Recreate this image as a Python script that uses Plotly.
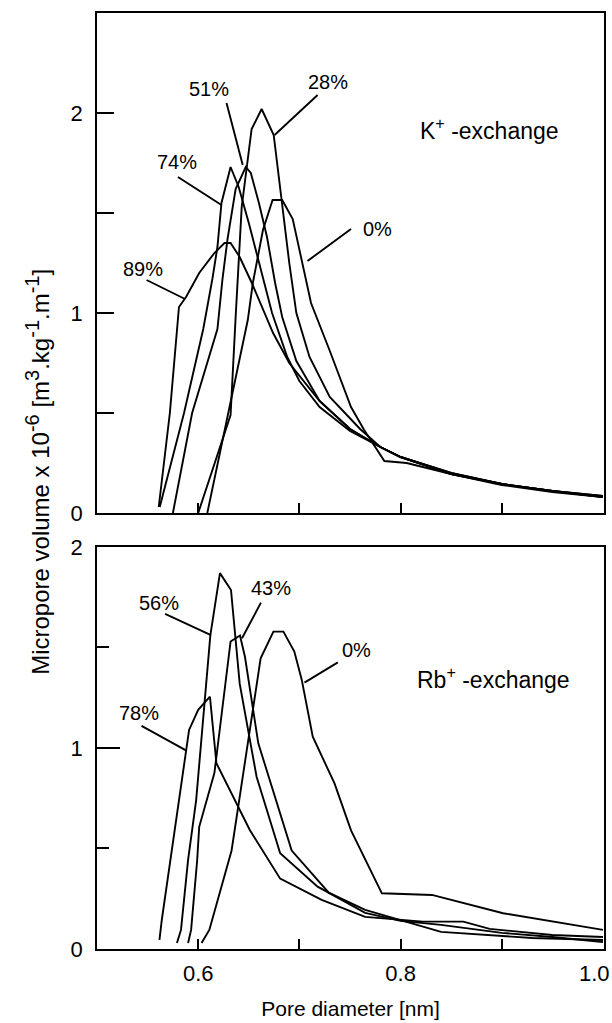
import plotly.graph_objects as go

# ---------------- data: K+-exchange (top panel) ----------------
k0_x = [0.609, 0.649, 0.654, 0.664, 0.6735, 0.683, 0.6934, 0.7115, 0.7297, 0.751, 0.764, 0.784, 0.806, 0.85, 0.90, 0.95, 1.00]
k0_y = [0.00, 0.965, 1.15, 1.415, 1.565, 1.565, 1.47, 1.05, 0.815, 0.53, 0.415, 0.26, 0.25, 0.195, 0.145, 0.11, 0.085]

k28_x = [0.600, 0.632, 0.637, 0.643, 0.6528, 0.6627, 0.6746, 0.683, 0.690, 0.697, 0.710, 0.730, 0.760, 0.780, 0.800, 0.850, 0.900, 0.950, 1.000]
k28_y = [0.00, 0.49, 0.98, 1.53, 1.92, 2.02, 1.89, 1.55, 1.25, 1.00, 0.78, 0.58, 0.42, 0.33, 0.28, 0.20, 0.145, 0.11, 0.085]

k51_x = [0.575, 0.594, 0.619, 0.624, 0.629, 0.637, 0.647, 0.652, 0.660, 0.668, 0.676, 0.683, 0.697, 0.720, 0.750, 0.780, 0.800, 0.850, 0.900, 0.950, 1.000]
k51_y = [0.00, 0.50, 0.92, 1.17, 1.37, 1.62, 1.73, 1.70, 1.55, 1.38, 1.15, 0.98, 0.76, 0.56, 0.42, 0.33, 0.28, 0.195, 0.145, 0.11, 0.08]

k74_x = [0.562, 0.586, 0.605, 0.614, 0.619, 0.623, 0.632, 0.640, 0.650, 0.660, 0.673, 0.688, 0.700, 0.720, 0.750, 0.780, 0.800, 0.850, 0.900, 0.950, 1.000]
k74_y = [0.03, 0.50, 0.92, 1.17, 1.33, 1.55, 1.73, 1.63, 1.45, 1.25, 1.00, 0.78, 0.66, 0.53, 0.41, 0.33, 0.28, 0.195, 0.14, 0.105, 0.08]

k89_x = [0.561, 0.572, 0.581, 0.588, 0.601, 0.616, 0.626, 0.632, 0.641, 0.653, 0.674, 0.690, 0.720, 0.750, 0.780, 0.800, 0.850, 0.900, 0.950, 1.000]
k89_y = [0.03, 0.50, 1.03, 1.08, 1.20, 1.30, 1.35, 1.35, 1.28, 1.15, 0.90, 0.75, 0.56, 0.42, 0.33, 0.28, 0.20, 0.145, 0.11, 0.08]

# ---------------- data: Rb+-exchange (bottom panel) ----------------
r0_x = [0.6033, 0.611, 0.633, 0.6617, 0.6743, 0.6842, 0.695, 0.7023, 0.7132, 0.7347, 0.751, 0.7815, 0.831, 0.9013, 1.000]
r0_y = [0.03, 0.095, 0.49, 1.446, 1.579, 1.579, 1.48, 1.34, 1.056, 0.824, 0.59, 0.277, 0.269, 0.178, 0.095]

r43_x = [0.590, 0.593, 0.599, 0.601, 0.616, 0.632, 0.6413, 0.6462, 0.6594, 0.6924, 0.729, 0.765, 0.840, 0.930, 1.000]
r43_y = [0.03, 0.095, 0.443, 0.608, 0.875, 1.53, 1.56, 1.454, 1.023, 0.49, 0.28, 0.195, 0.085, 0.055, 0.045]

r56_x = [0.579, 0.583, 0.590, 0.598, 0.612, 0.6215, 0.6324, 0.641, 0.6577, 0.681, 0.718, 0.765, 0.800, 0.840, 0.900, 0.950, 1.000]
r56_y = [0.03, 0.095, 0.443, 0.741, 1.56, 1.87, 1.786, 1.32, 0.857, 0.476, 0.31, 0.18, 0.14, 0.12, 0.08, 0.06, 0.035]

r78_x = [0.5617, 0.564, 0.591, 0.600, 0.6116, 0.618, 0.651, 0.681, 0.722, 0.765, 0.822, 0.862, 0.888, 0.950, 1.000]
r78_y = [0.045, 0.144, 1.09, 1.19, 1.255, 0.924, 0.592, 0.35, 0.244, 0.16, 0.136, 0.136, 0.10, 0.07, 0.06]

# ---------------- labels ----------------
x_tickvals = [0.6, 0.7, 0.8, 0.9]
x_ticktext = ["0.6", "", "0.8", ""]
x_last_tick = 1.0
x_last_text = "1.0"

top_labels = ["51%", "28%", "74%", "0%", "89%"]
top_label_x = [0.611, 0.728, 0.5786, 0.777, 0.545]
top_label_y = [2.12, 2.157, 1.757, 1.42, 1.22]
top_leader_x0 = [0.628, 0.718, 0.580, 0.751, 0.549]
top_leader_y0 = [2.05, 2.09, 1.68, 1.42, 1.165]
top_leader_x1 = [0.644, 0.6755, 0.623, 0.708, 0.587]
top_leader_y1 = [1.74, 1.89, 1.54, 1.26, 1.07]

bot_labels = ["56%", "43%", "0%", "78%"]
bot_label_x = [0.5614, 0.672, 0.756, 0.5416]
bot_label_y = [1.72, 1.795, 1.488, 1.173]
bot_leader_x0 = [0.5673, 0.662, 0.738, 0.544]
bot_leader_y0 = [1.667, 1.723, 1.426, 1.11]
bot_leader_x1 = [0.6126, 0.6433, 0.705, 0.5884]
bot_leader_y1 = [1.562, 1.546, 1.325, 0.987]

FONT = "Liberation Sans, Arial, sans-serif"
fig = go.Figure()

for xs, ys in [(k0_x, k0_y), (k28_x, k28_y), (k51_x, k51_y), (k74_x, k74_y), (k89_x, k89_y)]:
    fig.add_trace(go.Scatter(x=xs, y=ys, mode="lines", line=dict(color="black", width=1.9),
                             xaxis="x", yaxis="y", showlegend=False, hoverinfo="skip"))
for xs, ys in [(r0_x, r0_y), (r43_x, r43_y), (r56_x, r56_y), (r78_x, r78_y)]:
    fig.add_trace(go.Scatter(x=xs, y=ys, mode="lines", line=dict(color="black", width=1.9),
                             xaxis="x2", yaxis="y2", showlegend=False, hoverinfo="skip"))

annotations = []
shapes = []
for t, x, y, x0, y0, x1, y1 in zip(top_labels, top_label_x, top_label_y, top_leader_x0, top_leader_y0, top_leader_x1, top_leader_y1):
    annotations.append(dict(x=x, y=y, xref="x", yref="y", text=t, showarrow=False,
                            font=dict(family=FONT, size=20, color="black")))
    shapes.append(dict(type="line", xref="x", yref="y", x0=x0, y0=y0, x1=x1, y1=y1,
                       line=dict(color="black", width=1.9)))
for t, x, y, x0, y0, x1, y1 in zip(bot_labels, bot_label_x, bot_label_y, bot_leader_x0, bot_leader_y0, bot_leader_x1, bot_leader_y1):
    annotations.append(dict(x=x, y=y, xref="x2", yref="y2", text=t, showarrow=False,
                            font=dict(family=FONT, size=20, color="black")))
    shapes.append(dict(type="line", xref="x2", yref="y2", x0=x0, y0=y0, x1=x1, y1=y1,
                       line=dict(color="black", width=1.9)))

annotations.append(dict(x=0.8876, y=1.92, xref="x", yref="y", text="K<sup>+</sup> -exchange",
                        showarrow=False, font=dict(family=FONT, size=23, color="black")))
annotations.append(dict(x=0.8914, y=1.347, xref="x2", yref="y2", text="Rb<sup>+</sup> -exchange",
                        showarrow=False, font=dict(family=FONT, size=23, color="black")))

# last x tick label, nudged so it stays inside the page like the reference
annotations.append(dict(x=x_last_tick, y=0, xref="x2", yref="y2", text=x_last_text,
                        showarrow=False, xanchor="right", yanchor="middle", xshift=9, yshift=-25,
                        font=dict(family=FONT, size=22, color="black")))

SUP = "<sup><span style='font-size:20px'>%s</span></sup>"
ytitle = ("Micropore volume x 10" + SUP % "-6" + " [m" + SUP % "3" + ".kg" + SUP % "-1"
          + ".m" + SUP % "-1" + "]")
annotations.append(dict(x=-0.118, y=0.51, xref="paper", yref="paper", textangle=-90,
                        xanchor="center", yanchor="middle", text=ytitle,
                        showarrow=False, font=dict(family=FONT, size=24, color="black")))

axis_common = dict(showline=True, mirror=True, linecolor="black", linewidth=1.9,
                   showgrid=False, zeroline=False, ticks="inside", tickcolor="black",
                   tickwidth=1.9, automargin=False,
                   tickfont=dict(family=FONT, size=22, color="black"))

fig.update_layout(
    width=612, height=1023,
    margin=dict(l=97, r=8, t=13, b=74),
    paper_bgcolor="white", plot_bgcolor="white",
    showlegend=False,
    xaxis=dict(domain=[0, 1], anchor="y", range=[0.5, 1.001], tickvals=x_tickvals,
               showticklabels=False, ticklen=10, **axis_common),
    yaxis=dict(domain=[0.4658, 1], anchor="x", range=[0, 2.5], tickvals=[0, 0.5, 1, 1.5, 2],
               ticktext=["0", "", "1", "", "2"], ticklen=17, ticklabelstandoff=8, **axis_common),
    xaxis2=dict(domain=[0, 1], anchor="y2", range=[0.5, 1.001], tickvals=x_tickvals,
                ticktext=x_ticktext, ticklen=10, ticklabelstandoff=4,
                title=dict(text="Pore diameter [nm]", font=dict(family=FONT, size=21, color="black"), standoff=16),
                **axis_common),
    yaxis2=dict(domain=[0, 0.4295], anchor="x2", range=[0, 2], tickvals=[0, 1, 2],
                ticktext=["0", "1", "2"], ticklen=23, ticklabelstandoff=8,
                minor=dict(tickvals=[0.5, 1.5], ticks="inside", ticklen=12, tickwidth=1.9, tickcolor="black"),
                **axis_common),
    annotations=annotations,
    shapes=shapes,
)

fig.write_html("out.html")
